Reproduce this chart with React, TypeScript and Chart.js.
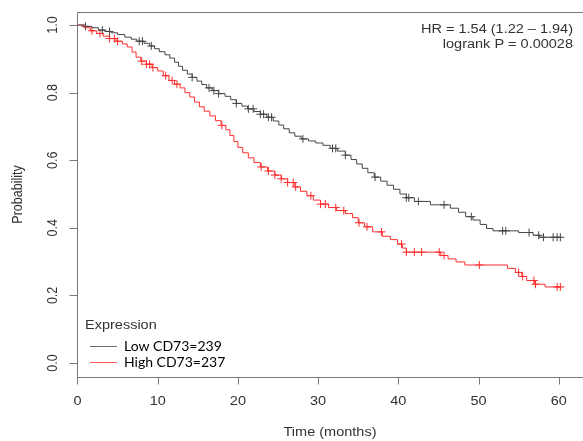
import React, { useEffect, useRef } from "react";
import { Chart, registerables } from "chart.js";

Chart.register(...registerables);

// Kaplan–Meier estimates (time in months, survival probability)
const lowTimes = [0, 1.0, 1.8, 2.6, 3.4, 4.2, 5.0, 5.9, 6.7, 7.4, 8.3, 9.0, 9.6, 10.2, 10.9, 11.5, 12.1, 12.6, 13.1, 13.7, 14.3, 14.9, 15.5, 16.1, 16.8, 17.6, 18.4, 19.1, 19.8, 20.5, 21.2, 22.0, 22.8, 23.6, 24.4, 25.1, 25.7, 26.4, 27.1, 27.9, 28.8, 29.7, 30.6, 31.5, 32.4, 33.4, 34.1, 34.8, 35.5, 36.2, 37.0, 37.8, 38.6, 39.4, 40.2, 41.0, 42.0, 44.0, 46.5, 47.5, 48.4, 49.3, 50.2, 51.0, 51.8, 55.0, 56.8, 57.6, 60.3];
const lowSurv = [1, 0.996, 0.992, 0.985, 0.981, 0.977, 0.972, 0.964, 0.958, 0.952, 0.946, 0.938, 0.930, 0.921, 0.912, 0.902, 0.890, 0.878, 0.866, 0.855, 0.845, 0.834, 0.824, 0.814, 0.806, 0.797, 0.789, 0.779, 0.768, 0.760, 0.752, 0.744, 0.736, 0.727, 0.716, 0.704, 0.693, 0.681, 0.671, 0.663, 0.657, 0.651, 0.644, 0.635, 0.627, 0.615, 0.602, 0.589, 0.576, 0.563, 0.550, 0.538, 0.526, 0.514, 0.500, 0.489, 0.478, 0.468, 0.458, 0.446, 0.433, 0.423, 0.410, 0.398, 0.391, 0.386, 0.378, 0.372, 0.372];
const lowCensor = [1.0, 3.1, 4.0, 7.7, 8.1, 9.2, 14.3, 16.4, 17.0, 17.6, 19.8, 21.3, 21.9, 22.8, 23.2, 23.8, 24.2, 28.1, 31.8, 32.2, 33.4, 37.1, 41.0, 41.3, 42.5, 45.7, 49.1, 53.0, 53.4, 56.3, 57.5, 58.1, 59.3, 59.8, 60.2];

const highTimes = [0, 0.8, 1.6, 2.4, 3.2, 4.0, 4.8, 5.6, 6.2, 6.8, 7.3, 7.9, 8.6, 9.3, 10.0, 10.7, 11.4, 12.1, 12.8, 13.4, 14.0, 14.6, 15.2, 15.8, 16.5, 17.2, 17.9, 18.5, 19.0, 19.5, 20.0, 20.6, 21.3, 22.0, 22.8, 23.7, 24.6, 25.4, 26.2, 27.0, 27.8, 28.6, 29.4, 30.3, 31.3, 32.3, 33.4, 34.3, 35.0, 35.8, 36.8, 38.0, 39.0, 39.9, 40.5, 41.0, 45.3, 46.2, 47.2, 48.3, 53.6, 54.6, 55.4, 56.0, 57.0, 58.3, 60.3];
const highSurv = [1, 0.992, 0.983, 0.975, 0.967, 0.960, 0.952, 0.944, 0.935, 0.920, 0.905, 0.893, 0.884, 0.874, 0.864, 0.850, 0.836, 0.825, 0.814, 0.800, 0.787, 0.772, 0.758, 0.745, 0.731, 0.717, 0.703, 0.690, 0.673, 0.655, 0.638, 0.622, 0.607, 0.593, 0.580, 0.568, 0.556, 0.545, 0.534, 0.521, 0.508, 0.495, 0.482, 0.470, 0.460, 0.451, 0.442, 0.430, 0.415, 0.403, 0.388, 0.375, 0.365, 0.352, 0.340, 0.328, 0.318, 0.308, 0.299, 0.290, 0.280, 0.268, 0.256, 0.244, 0.233, 0.225, 0.225];
const highCensor = [1.8, 2.8, 4.0, 4.6, 5.0, 8.0, 8.6, 9.0, 9.4, 11.0, 11.8, 12.4, 18.0, 22.9, 23.8, 24.6, 25.4, 26.2, 26.9, 27.2, 29.1, 30.3, 30.9, 32.2, 33.2, 35.1, 36.1, 37.9, 40.4, 41.0, 42.0, 42.9, 45.1, 45.7, 50.1, 55.0, 55.5, 56.9, 57.1, 59.8, 60.2];

const xTicks = [0, 10, 20, 30, 40, 50, 60];
const yTicks = [0, 0.2, 0.4, 0.6, 0.8, 1.0];
const yTickLabels = ["0.0", "0.2", "0.4", "0.6", "0.8", "1.0"];
const seriesLabels = ["Low CD73=239", "High CD73=237"];
const legendTitle = "Expression";
const statLines = ["HR = 1.54 (1.22 \u2013 1.94)", "logrank P = 0.00028"];
const xTitle = "Time (months)";
const yTitle = "Probability";

const LOW_COLOR = "rgb(70,70,70)";
const HIGH_COLOR = "rgb(255,45,45)";
const AXIS_COLOR = "rgb(120,120,120)";
const TEXT_COLOR = "rgb(50,50,50)";
const RFONT = '12.5px "Liberation Sans", Arial, sans-serif';
const STRETCH = 1.16;

function survAt(times: number[], surv: number[], t: number) {
  let v = surv[0];
  for (let i = 0; i < times.length; i++) {
    if (times[i] <= t) v = surv[i];
  }
  return v;
}

const decorPlugin = {
  id: "decor",
  beforeDatasetsDraw(chart: any) {
    const { ctx, chartArea, scales } = chart;
    const x = scales.x;
    const y = scales.y;
    ctx.save();
    ctx.strokeStyle = AXIS_COLOR;
    ctx.lineWidth = 1;
    const L = Math.round(chartArea.left) + 0.5;
    const T = Math.round(chartArea.top) + 0.5;
    const B = Math.round(chartArea.bottom) + 0.5;
    const R = chart.width + 2;
    ctx.beginPath();
    ctx.moveTo(R, T);
    ctx.lineTo(L, T);
    ctx.lineTo(L, B);
    ctx.lineTo(R, B);
    ctx.stroke();
    // ticks
    ctx.beginPath();
    for (const v of xTicks) {
      const px = Math.round(x.getPixelForValue(v)) + 0.5;
      ctx.moveTo(px, B);
      ctx.lineTo(px, B + 7);
    }
    for (const v of yTicks) {
      const py = Math.round(y.getPixelForValue(v)) + 0.5;
      ctx.moveTo(L, py);
      ctx.lineTo(L - 8, py);
    }
    ctx.stroke();
    ctx.restore();
  },
  afterDraw(chart: any) {
    const { ctx, chartArea, scales } = chart;
    const x = scales.x;
    const y = scales.y;
    const drawText = (txt: string, px: number, py: number, align: CanvasTextAlign, rot = 0, font = RFONT, color = TEXT_COLOR, stretch = STRETCH) => {
      ctx.save();
      ctx.translate(px, py);
      ctx.scale(stretch, 1);
      if (rot) ctx.rotate(rot);
      ctx.font = font;
      ctx.fillStyle = color;
      ctx.textAlign = align;
      ctx.textBaseline = "middle";
      ctx.fillText(txt, 0, 0);
      ctx.restore();
    };
    // x tick labels
    xTicks.forEach((v) => drawText(String(v), x.getPixelForValue(v), 401.5, "center"));
    // y tick labels (rotated)
    yTicks.forEach((v, i) => drawText(yTickLabels[i], 52.5, y.getPixelForValue(v), "center", -Math.PI / 2));
    // axis titles
    drawText(xTitle, (chartArea.left + chart.width) / 2, 432.5, "center");
    drawText(yTitle, 17.5, (chartArea.top + chartArea.bottom) / 2, "center", -Math.PI / 2);
    // stats
    ctx.save();
    ctx.translate(573, 0);
    ctx.scale(STRETCH, 1);
    ctx.font = RFONT;
    ctx.fillStyle = TEXT_COLOR;
    ctx.textAlign = "right";
    ctx.textBaseline = "middle";
    ctx.fillText(statLines[0], 0, 29.5);
    ctx.fillText(statLines[1], 0, 44.5);
    ctx.restore();
    // legend
    drawText(legendTitle, 85, 326, "left");
    const colors = [LOW_COLOR, HIGH_COLOR];
    const ys = [346, 362];
    ctx.save();
    ctx.lineWidth = 1;
    colors.forEach((c, i) => {
      ctx.strokeStyle = i === 0 ? "rgb(110,110,110)" : "rgb(255,90,90)";
      ctx.beginPath();
      ctx.moveTo(90, ys[i] + 0.5);
      ctx.lineTo(117, ys[i] + 0.5);
      ctx.stroke();
    });
    ctx.restore();
    seriesLabels.forEach((s, i) => drawText(s, 124, ys[i], "left", 0, '14px Lato, "Open Sans", sans-serif', "#000", 1));
  },
};

export default function App() {
  const ref = useRef<HTMLCanvasElement | null>(null);
  useEffect(() => {
    if (!ref.current) return;
    const lowData = lowTimes.map((t, i) => ({ x: t, y: lowSurv[i] }));
    const highData = highTimes.map((t, i) => ({ x: t, y: highSurv[i] }));
    const lowC = lowCensor.map((t) => ({ x: t, y: survAt(lowTimes, lowSurv, t) }));
    const highC = highCensor.map((t) => ({ x: t, y: survAt(highTimes, highSurv, t) }));
    const chart = new Chart(ref.current, {
      type: "line",
      data: {
        datasets: [
          { label: seriesLabels[0], data: lowData, borderColor: LOW_COLOR, borderWidth: 1, pointRadius: 0, stepped: true, fill: false },
          { label: seriesLabels[1], data: highData, borderColor: HIGH_COLOR, borderWidth: 1, pointRadius: 0, stepped: true, fill: false },
          { type: "scatter", label: "lowCensor", data: lowC, showLine: false, pointStyle: "cross", pointRadius: 4, borderColor: LOW_COLOR, borderWidth: 1 } as any,
          { type: "scatter", label: "highCensor", data: highC, showLine: false, pointStyle: "cross", pointRadius: 4, borderColor: HIGH_COLOR, borderWidth: 1 } as any,
        ],
      },
      options: {
        responsive: false,
        animation: false,
        layout: { padding: { left: 77, top: 12, right: 0, bottom: 64 } },
        scales: {
          x: { type: "linear", min: -0.06, max: 62.4, display: false },
          y: { type: "linear", min: -0.0414, max: 1.0385, display: false },
        },
        plugins: { legend: { display: false }, tooltip: { enabled: false } },
        events: [],
      },
      plugins: [decorPlugin],
    });
    return () => chart.destroy();
  }, []);
  return (
    <div style={{ position: "fixed", left: 0, top: 0, width: 583, height: 441, background: "#fff" }}>
      <canvas ref={ref} width={583} height={441} style={{ display: "block", width: 583, height: 441 }} />
    </div>
  );
}
